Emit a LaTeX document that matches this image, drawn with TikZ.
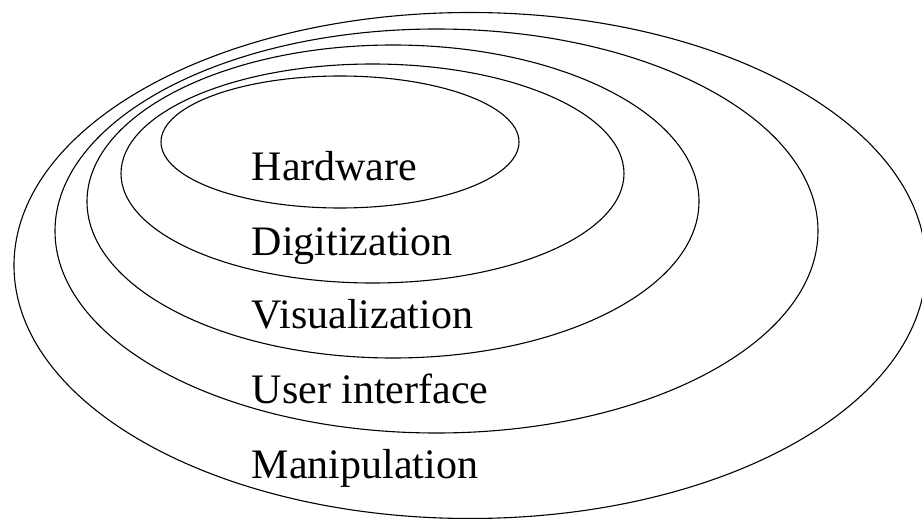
\documentclass[tikz,border=0pt]{standalone}
\usepackage{fontspec}
\setmainfont{Liberation Serif}
\begin{document}
\begin{tikzpicture}[x=1pt,y=-1pt,
  ring/.style={draw=black,line width=1.1pt},
  lbl/.style={anchor=base west,inner sep=0pt,font=\fontsize{42}{50}\selectfont}]
\useasboundingbox (0,0) rectangle (922,519);
\draw[ring] (470,265.5) ellipse [x radius=456pt, y radius=253pt];
\draw[ring] (436.5,231) ellipse [x radius=381.5pt, y radius=202pt];
\draw[ring] (393,201.5) ellipse [x radius=306pt, y radius=156.5pt];
\draw[ring] (372.5,173.5) ellipse [x radius=251.5pt, y radius=109.5pt];
\draw[ring] (340,142) ellipse [x radius=179pt, y radius=66pt];
\node[lbl] (hw) at (251.5,180) {Hardware};
\node[lbl] (dg) at (251.5,255) {Digitization};
\node[lbl] (vz) at (251.5,328) {Visualization};
\node[lbl] (ui) at (251.5,403) {User interface};
\node[lbl] (mp) at (251.5,478) {Manipulation};
\end{tikzpicture}
\end{document}
